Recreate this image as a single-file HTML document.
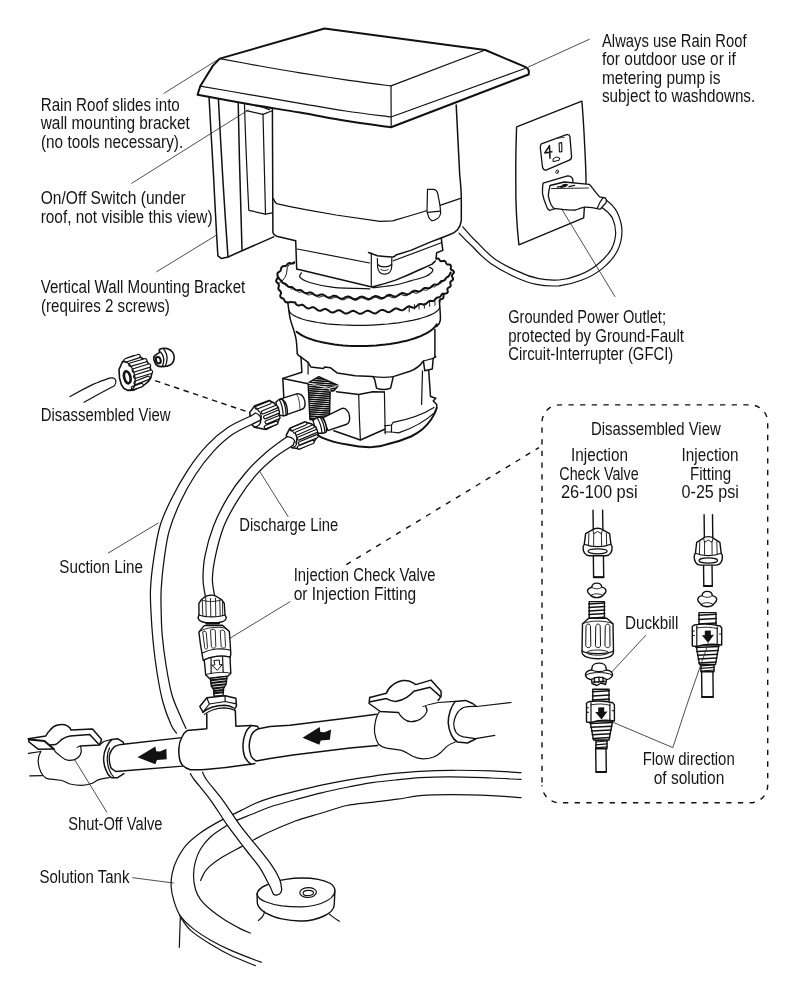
<!DOCTYPE html>
<html lang="en"><head><meta charset="utf-8"><title>Metering pump installation</title>
<style>
html,body{margin:0;padding:0;background:#fff}
svg{display:block;will-change:transform;opacity:.9999}
text{font-family:"Liberation Sans",sans-serif;font-size:17.5px;fill:#151515}
.l{fill:none;stroke:#111;stroke-width:1.5;stroke-linecap:round;stroke-linejoin:round}
.b{fill:none;stroke:#111;stroke-width:2.0;stroke-linecap:round;stroke-linejoin:round}
.t{fill:none;stroke:#222;stroke-width:0.8;stroke-linecap:round;stroke-linejoin:round}
.m{fill:none;stroke:#111;stroke-width:1.2;stroke-linecap:round;stroke-linejoin:round}
.w{fill:#fff;stroke:#111;stroke-width:1.4;stroke-linecap:round;stroke-linejoin:round}
.k{fill:#111;stroke:none}
.d{fill:none;stroke:#111;stroke-width:1.4;stroke-dasharray:5.3 6.36}
</style></head>
<body>
<svg width="789" height="1000" viewBox="0 0 789 1000">
<rect width="789" height="1000" fill="#fff"/>
<!-- 05_tank.svg -->
<g id="tank">
<path class="m" d="M521.0,772.7 C516.1,772.4 503.3,771.3 491.6,770.9 C479.9,770.5 462.9,770.2 451.0,770.3 C439.1,770.4 429.0,770.8 420.0,771.3 C411.0,771.8 405.0,772.4 397.0,773.2 C389.0,774.0 380.6,775.1 372.1,776.3 C363.6,777.5 354.4,778.9 346.0,780.4 C337.6,781.9 329.7,783.4 321.4,785.2 C313.1,787.0 304.4,789.1 296.0,791.2 C287.6,793.3 277.5,795.9 270.7,797.9 C263.9,799.9 259.9,801.4 255.0,803.5 C250.1,805.6 247.1,807.4 241.1,810.4 C235.1,813.4 225.6,817.9 218.8,821.6 C212.1,825.3 206.0,828.8 200.6,832.7 C195.2,836.6 190.3,840.5 186.4,844.9 C182.5,849.3 179.6,854.4 177.2,859.1 C174.8,863.8 173.2,868.6 172.2,873.3 C171.2,878.0 170.9,882.8 171.2,887.5 C171.5,892.2 172.7,897.0 174.2,901.7 C175.7,906.4 177.2,911.5 180.3,915.9 C183.4,920.3 187.4,924.0 192.5,928.1 C197.6,932.2 204.3,936.5 210.7,940.2 C217.1,943.9 224.2,947.4 231.0,950.4 C237.8,953.4 246.2,956.5 251.3,958.5 C256.4,960.5 259.7,961.6 261.4,962.2"/>
<path class="m" d="M521.0,779.4 C516.1,779.2 503.3,778.4 491.6,778.0 C479.9,777.6 462.9,776.9 451.0,776.8 C439.1,776.7 429.0,777.1 420.0,777.6 C411.0,778.1 405.0,778.9 397.0,779.8 C389.0,780.6 380.6,781.4 372.1,782.7 C363.6,784.0 354.4,785.8 346.0,787.5 C337.6,789.2 329.7,790.8 321.4,792.8 C313.1,794.8 304.4,797.2 296.0,799.5 C287.6,801.8 278.1,804.3 270.7,806.8 C263.2,809.3 256.6,812.4 251.3,814.5 C246.0,816.6 243.1,817.5 239.0,819.4 C234.9,821.2 231.6,822.7 226.9,825.6 C222.2,828.5 215.1,832.9 210.7,836.8 C206.3,840.7 203.1,845.0 200.6,849.0 C198.1,853.0 196.7,856.7 195.5,861.1 C194.3,865.5 193.5,870.6 193.5,875.3 C193.5,880.0 194.3,885.4 195.5,889.5 C196.7,893.6 198.1,896.3 200.6,899.7 C203.1,903.1 206.6,906.4 210.7,909.8 C214.8,913.2 219.8,916.8 224.9,920.0 C230.0,923.2 236.9,926.9 241.1,929.1 C245.3,931.3 248.8,932.4 250.3,933.1"/>
<path class="m" d="M521.0,797.7 C516.1,797.4 503.3,796.1 491.6,795.6 C479.9,795.1 462.9,794.6 451.0,794.6 C439.1,794.6 428.9,794.9 420.0,795.7 C411.1,796.5 405.4,798.1 397.4,799.2 C389.4,800.3 380.4,801.2 372.0,802.3 C363.6,803.3 355.4,803.6 346.7,805.5 C338.0,807.4 328.4,811.0 320.0,813.5 C311.6,816.0 303.3,818.1 296.0,820.7 C288.7,823.3 281.8,826.5 276.0,829.0 C270.2,831.5 267.2,832.8 261.4,835.8 C255.6,838.8 247.8,843.2 241.1,846.9 C234.3,850.6 226.6,854.4 220.9,858.1 C215.2,861.8 210.1,865.6 206.7,869.3 C203.3,873.0 201.6,878.5 200.6,880.4"/>
<path class="m" d="M179.5,915.5 C181.3,917.9 185.2,925.3 190.4,930.1 C195.6,934.9 203.9,940.1 210.7,944.3 C217.5,948.5 223.6,952.0 231.0,955.5 C238.4,959.0 251.2,963.9 255.3,965.6"/>
<path class="m" d="M180.3,917.9 L179.3,947.3"/>
<!-- bung -->
<path class="w" d="M257,893.6 C258,890 261,887.5 265.5,885.5 C271.5,882.5 278.5,880.5 285.8,879.4 C291,878.5 296.5,878 302,878 C313,878 324,880 330.5,883.5 C333.5,885.5 335,888 334.9,891 L334.2,905 C334,909 330.5,913 324,916 C317.5,919 310,921 302,921 C295,921.2 288,920.3 281.7,918.9 C275.5,917.5 270,915.5 265.5,912.9 C261.5,910.3 258.5,907.3 257.4,903.7 Z"/>
<path class="m" d="M257,893.6 C257.5,897.5 261,900 265.5,901.7 C270.5,903.7 276,905 281.7,905.8 C288.5,906.6 295.3,906.9 302,906.8 C309,906.6 315.5,905.5 321,903.5 C329,900.5 334.5,896.5 334.9,891"/>
<ellipse class="m" cx="308.1" cy="892.5" rx="8.3" ry="4.9" transform="rotate(-3 308.1 892.5)"/>
<ellipse class="m" cx="308.3" cy="892.9" rx="5.2" ry="2.6" transform="rotate(-3 308.3 892.9)"/>
<path class="m" d="M264.5,911.8 C264,915 262.5,917.5 258.4,920.4"/>
<path class="m" d="M329.5,914.2 C333,917 336,919.5 339.5,921.2"/>
</g>
<!-- 10_pump_top.svg -->
<g id="pump-top">
<!-- bracket -->
<path class="l" d="M209,96 C210.5,125 212.5,160 213.5,175 C215,205 216.5,235 217.9,255.9 L221.5,258.6 L228,257 L242,250.8 L273.7,236.9"/>
<path class="l" d="M218.4,98.7 C221,150 225,215 228,257"/>
<path class="l" d="M238.2,101.8 C239,150 240.8,210 242,249.8"/>
<!-- switch -->
<path class="m" d="M244.5,104.5 C245.5,140 247.3,180 248.8,210.3 L265.5,214.2 L272.4,212.8"/>
<path class="m" d="M246,103.6 C254,104.5 262,106.5 269.5,109.6"/>
<path class="m" d="M246.5,110.6 L263,114.4 C263.6,150 264.6,185 265.5,214.2"/>
<path class="m" d="M263,114.4 L271.5,111"/>
<!-- body -->
<path class="l" d="M272.4,107 C272.6,150 272.7,200 272.9,232.5 C273.5,234.8 275,235.8 276.7,236.3 L295.7,240.8 L296.7,269.1 L369.7,286.6 L372,286.9"/>
<path class="l" d="M456.2,104.9 C457.5,135 459,160 459.7,175 C460.6,183 461.2,190 461.3,197.8 L461.3,220.6 C460.8,224.5 459.5,227.5 457.5,229.8 C455.5,232 453.3,233.3 450.6,234.3 C444,237 437.5,239.5 430.8,241.9 L410.8,250.4 L395.9,255 C395,256.3 394,256.9 392.6,257 C387,256.8 382,256.4 377.4,255.7 L368.5,252.5"/>
<path class="m" d="M273.5,198.5 C274.5,201.5 275.3,203 276.7,203.6 C286,205.8 296,207.8 305.6,209.7 L336,215 L380,221.4 L392.8,220.8 C404,217.5 415,214.3 426.3,210.7"/>
<path class="m" d="M440,205.4 L460.5,198.4"/>
<!-- tab -->
<path class="m" d="M427,211.5 L427.5,189.4 L433.9,189.4 C436.3,190.2 437.3,191.5 437.7,193.3 L440,205.4 L440.7,213 C440,216.5 438.3,218.5 436.2,219.1 C434.8,220.5 433,220.8 431.6,220.6 C430,219.5 429,218.3 428.6,216.8 Z"/>
<path class="m" d="M427.3,212.3 L440.2,211.2"/>
<!-- lower block -->
<path class="m" d="M297.3,249 L369.7,263"/>
<path class="m" d="M371.3,253.1 L371.3,286.5"/>
<path class="m" d="M393.3,260.8 L441.3,242.8"/>
<path class="l" d="M372,286.9 C380,285 388,282.8 395.6,280.1 C403.5,277 411,273.7 418.4,270.2 C423,268.3 427.7,266.3 432.1,264.1 L435.2,261.1"/>
<path class="l" d="M441.3,238.3 L442.8,250.4 L436.7,252.7 L436,258.8"/>
<!-- screw post -->
<path class="m" d="M377.4,258.5 L377.6,267 C378.2,272 381.3,274.2 384.5,274.2 C388,274.2 391.2,272 391.7,267 L391.8,258"/>
<path class="m" d="M377.6,264.5 C381,267.8 388,267.8 391.7,264.5"/>
<path class="m" d="M380.8,269.5 C382.5,271 386.5,271 388.2,269.5" style="stroke-width:.9"/>
<!-- roof -->
<path d="M219.7,58.6 L324.5,28.5 L485.3,50 L524.6,66.7 C528.5,68 529.6,70.5 528.6,74.5 L391,127.3 C383.4,126.2 360.8,123.3 345.6,120.8 C330.4,118.3 315.8,115.2 300.0,112.5 C284.2,109.8 267.9,107.5 250.8,104.6 C233.7,101.6 206.5,96.4 197.6,94.8 L200.2,86.2 L212.8,65.9 Z" fill="#fff"/>
<path class="b" d="M219.7,58.6 L324.5,28.5 L485.3,50 L524.6,66.7 C528.5,68 529.6,70.5 528.6,74.5 L391,127.3 C383.4,126.2 360.8,123.3 345.6,120.8 C330.4,118.3 315.8,115.2 300.0,112.5 C284.2,109.8 267.9,107.5 250.8,104.6 C233.7,101.6 206.5,96.4 197.6,94.8 L200.2,86.2 L212.8,65.9 Z"/>
<path class="m" d="M219.7,58.6 C226.4,59.8 246.6,63.6 260.0,66.0 C273.4,68.4 285.7,70.6 300.0,72.9 C314.3,75.2 330.4,77.6 345.6,79.8 C360.8,82.0 383.4,84.9 391.0,85.9 L485.3,50"/>
<path class="m" d="M391,85.9 L391.2,127.3"/>
<path class="m" d="M200.2,86.2 C208.6,87.6 234.2,92.0 250.8,94.8 C267.4,97.6 284.2,100.6 300.0,103.3 C315.8,106.0 330.4,108.7 345.6,111.0 C360.8,113.3 383.4,116.0 391.0,117.0 L524.8,68.5"/>
</g>

<!-- 20_ring.svg -->
<g id="ring">
<path class="m" d="M301.5,272.8 C301.2,273.6 298.5,275.8 300.0,277.4 C301.5,279.0 305.0,281.0 310.6,282.7 C316.2,284.4 323.5,286.3 333.4,287.3 C343.3,288.3 363.8,288.6 369.9,288.8"/>
<path class="m" d="M372.8,287.7 C376.5,287.2 388.7,286.1 395.0,285.0 C401.3,283.9 405.6,282.2 410.8,280.8 C416.0,279.4 422.3,278.1 426.0,276.3 C429.7,274.5 432.4,271.7 432.9,270.2 C433.4,268.7 429.7,267.6 429.1,267.1"/>
<path class="m" d="M294.7,262.2 C293.6,262.8 289.4,264.0 288.0,266.0 C286.6,268.0 287.1,272.0 286.3,274.3 C285.5,276.6 284.1,278.6 283.0,280.0 C281.9,281.4 280.0,282.2 279.4,282.7" style="stroke-width:1"/>
<path class="b" d="M294.2,262.3 L294.1,262.7 L293.8,263.0 L293.5,263.3 L293.2,263.5 L292.7,263.6 L292.3,263.6 L291.8,263.5 L291.2,263.4 L290.7,263.3 L290.2,263.1 L289.7,263.1 L289.2,263.1 L288.8,263.2 L288.4,263.4 L288.0,263.7 L287.6,264.0 L287.2,264.5 L286.9,264.9 L286.6,265.2 L286.2,265.6 L285.9,265.8 L285.5,266.0 L285.1,266.1 L284.6,266.1 L284.1,266.1 L283.6,266.2 L283.1,266.3 L282.6,266.5 L282.2,266.7 L281.8,267.0 L281.5,267.4 L281.3,267.8 L281.2,268.3 L281.1,268.9 L280.9,269.4 L280.8,269.9 L280.7,270.3 L280.5,270.7 L280.3,271.0 L279.9,271.3 L279.5,271.6 L279.1,271.8 L278.7,272.1 L278.2,272.5 L277.9,272.8 L277.6,273.2 L277.4,273.6 L277.4,274.1 L277.4,274.6 L277.4,275.1 L277.6,275.6 L277.7,276.2 L277.8,276.7 L277.8,277.2 L277.7,277.6 L277.6,278.0 L277.4,278.3 L277.1,278.7 L276.9,279.1 L276.6,279.5 L276.4,280.0 L276.2,280.5 L276.2,281.1 L276.3,281.5 L276.5,281.9 L276.8,282.3 L277.2,282.7 L277.6,283.1 L278.0,283.4 L278.3,283.8 L278.6,284.2 L278.8,284.6 L278.9,285.1 L278.9,285.5 L278.9,286.0 L278.7,286.5 L278.6,287.1 L278.4,287.6 L278.3,288.1 L278.3,288.6 L278.4,289.0 L278.6,289.4 L278.9,289.8 L279.3,290.2 L279.7,290.6 L280.1,290.9 L280.4,291.3 L280.7,291.7 L280.9,292.1 L281.0,292.6 L281.0,293.1 L280.9,293.6 L280.7,294.1 L280.5,294.6 L280.4,295.1 L280.3,295.6 L280.3,296.1 L280.3,296.5 L280.5,297.0 L280.8,297.4 L281.3,297.7 L281.7,298.0 L282.2,298.2 L282.6,298.4 L283.0,298.5 L283.3,298.7 L283.6,299.0 L283.9,299.3 L284.1,299.7 L284.4,300.2 L284.6,300.7 L284.9,301.2 L285.1,301.6 L285.4,301.9 L285.8,302.2 L286.2,302.4 L286.6,302.4 L287.0,302.3 L287.4,302.2"/>
<path class="b" d="M436.5,258.9 L436.9,258.7 L437.3,258.5 L437.7,258.4 L438.1,258.5 L438.5,258.7 L438.9,259.1 L439.3,259.6 L439.6,260.1 L440.0,260.5 L440.3,260.9 L440.7,261.1 L441.2,261.3 L441.7,261.3 L442.2,261.1 L442.8,261.0 L443.4,260.9 L444.0,260.8 L444.5,260.9 L444.9,261.1 L445.3,261.5 L445.6,261.9 L445.8,262.4 L446.1,263.0 L446.4,263.5 L446.7,263.9 L447.0,264.2 L447.4,264.4 L447.9,264.4 L448.4,264.5 L449.0,264.5 L449.6,264.6 L450.1,264.8 L450.5,265.2 L450.8,265.6 L450.9,266.1 L450.9,266.7 L450.9,267.3 L450.8,267.9 L450.7,268.4 L450.8,269.0 L451.0,269.4 L451.3,269.8 L451.8,270.0 L452.3,270.3 L452.8,270.5 L453.3,270.9 L453.7,271.3 L453.9,271.8 L454.0,272.3 L453.8,272.8 L453.5,273.3 L453.1,273.7 L452.6,274.1 L452.3,274.6 L452.0,275.0 L451.9,275.5 L451.9,276.0 L452.1,276.5 L452.3,277.0 L452.6,277.5 L452.9,278.1 L453.1,278.6 L453.1,279.1 L453.0,279.6 L452.7,280.0 L452.2,280.4 L451.7,280.8 L451.3,281.1 L450.8,281.5 L450.5,281.8 L450.3,282.2 L450.3,282.7 L450.3,283.3 L450.4,283.8 L450.6,284.4 L450.7,285.0 L450.7,285.5 L450.6,286.0 L450.4,286.4 L450.0,286.8 L449.5,287.1 L449.0,287.4 L448.5,287.7 L448.0,288.0 L447.7,288.4 L447.5,288.8 L447.4,289.3 L447.5,289.9 L447.6,290.4 L447.7,291.0 L447.8,291.6 L447.7,292.2 L447.5,292.6 L447.1,293.0 L446.7,293.2 L446.1,293.4 L445.5,293.6 L444.9,293.7 L444.4,293.9 L444.0,294.2 L443.7,294.6 L443.6,295.1 L443.5,295.6 L443.5,296.2 L443.5,296.9 L443.4,297.4 L443.3,297.9 L443.1,298.3 L442.7,298.6 L442.2,298.9 L441.7,299.1 L441.1,299.2 L440.5,299.5 L440.1,299.7 L439.7,300.1 L439.5,300.5 L439.5,300.9 L439.6,301.3 L439.8,301.7"/>
<path class="b" d="M278.5,277.4 L278.7,277.9 L278.9,278.3 L279.1,278.7 L279.4,279.1 L279.6,279.3 L279.9,279.5 L280.2,279.7 L280.5,280.0 L280.8,280.3 L281.2,280.8 L281.6,281.4 L281.9,281.9 L282.4,282.4 L282.8,282.9 L283.2,283.1 L283.6,283.3 L284.1,283.4 L284.6,283.4 L285.1,283.6 L285.6,283.9 L286.1,284.4 L286.7,285.0 L287.3,285.7 L287.8,286.3 L288.4,286.7 L289.1,286.9 L289.7,287.0 L290.3,286.9 L290.9,286.9 L291.6,287.0 L292.3,287.2 L293.0,287.7 L293.7,288.4 L294.5,289.1 L295.2,289.7 L296.0,290.1 L296.8,290.3 L297.5,290.3 L298.3,290.1 L299.1,289.9 L300.0,289.9 L300.8,290.1 L301.7,290.6 L302.5,291.2 L303.4,292.0 L304.3,292.7 L305.2,293.1 L306.2,293.3 L307.1,293.2 L308.0,292.9 L308.9,292.6 L309.9,292.4 L310.9,292.5 L311.9,292.9 L312.9,293.6 L313.9,294.4 L314.9,295.1 L316.0,295.6 L317.0,295.7 L318.0,295.5 L319.1,295.1 L320.1,294.7 L321.2,294.4 L322.3,294.4 L323.4,294.8 L324.5,295.4 L325.6,296.2 L326.7,296.9 L327.9,297.4 L329.0,297.5 L330.1,297.3 L331.3,296.8 L332.4,296.2 L333.5,295.8 L334.7,295.7 L335.9,296.0 L337.1,296.6 L338.3,297.4 L339.5,298.1 L340.7,298.6 L341.9,298.7 L343.1,298.4 L344.3,297.8 L345.5,297.2 L346.7,296.7 L347.9,296.5 L349.1,296.7 L350.3,297.2 L351.6,297.9 L352.8,298.6 L354.1,299.1 L355.3,299.2 L356.6,298.8 L357.8,298.2 L359.0,297.5 L360.2,296.9 L361.5,296.6 L362.7,296.7 L364.0,297.1 L365.2,297.8 L366.5,298.4 L367.8,298.9 L369.0,298.9 L370.2,298.6 L371.5,297.9 L372.7,297.2 L373.9,296.5 L375.1,296.1 L376.4,296.1 L377.6,296.4 L378.9,297.0 L380.1,297.6 L381.3,298.0 L382.6,298.0 L383.8,297.7 L385.0,297.0 L386.2,296.2 L387.3,295.4 L388.5,295.0 L389.7,294.8 L390.9,295.1 L392.1,295.6 L393.3,296.1 L394.5,296.5 L395.7,296.5 L396.8,296.1 L398.0,295.4 L399.1,294.6 L400.2,293.8 L401.3,293.3 L402.5,293.0 L403.6,293.2 L404.7,293.6 L405.8,294.0 L406.9,294.3 L408.0,294.3 L409.1,293.9 L410.1,293.2 L411.2,292.4 L412.2,291.6 L413.2,291.0 L414.3,290.7 L415.3,290.8 L416.3,291.0 L417.3,291.3 L418.3,291.6 L419.3,291.5 L420.3,291.1 L421.2,290.5 L422.1,289.7 L423.0,288.9 L423.9,288.3 L424.8,287.9 L425.7,287.9 L426.6,288.0 L427.5,288.2 L428.4,288.3 L429.2,288.2 L430.0,287.9 L430.8,287.3 L431.6,286.5 L432.4,285.7 L433.2,285.1 L433.9,284.7 L434.7,284.6 L435.4,284.6 L436.1,284.7 L436.8,284.7 L437.5,284.6 L438.2,284.2 L438.8,283.6 L439.5,282.9 L440.1,282.2 L440.7,281.6 L441.3,281.2 L441.8,280.9 L442.4,280.9 L443.0,280.8 L443.5,280.7 L444.0,280.5 L444.5,280.2 L445.0,279.7 L445.4,279.0 L445.9,278.4 L446.3,277.8 L446.7,277.4 L447.1,277.1 L447.5,276.9 L447.9,276.8 L448.2,276.6 L448.6,276.3 L448.9,275.9 L449.2,275.5 L449.4,274.9 L449.7,274.4 L449.9,273.9 L450.1,273.5 L450.4,273.1 L450.5,272.9 L450.7,272.6"/>
<path class="m" d="M280.9,280.3 L281.2,280.7 L281.4,281.2 L281.7,281.5 L281.9,281.8 L282.2,282.1 L282.5,282.2 L282.8,282.4 L283.2,282.6 L283.5,283.0 L283.9,283.4 L284.3,283.9 L284.7,284.5 L285.1,285.0 L285.6,285.4 L286.0,285.6 L286.5,285.7 L286.9,285.8 L287.4,285.9 L287.9,286.0 L288.4,286.3 L289.0,286.8 L289.5,287.3 L290.1,288.0 L290.7,288.5 L291.3,288.9 L291.9,289.1 L292.5,289.1 L293.1,289.1 L293.8,289.0 L294.4,289.1 L295.1,289.3 L295.8,289.8 L296.5,290.4 L297.3,291.1 L298.0,291.7 L298.7,292.1 L299.5,292.2 L300.3,292.2 L301.0,292.0 L301.8,291.8 L302.6,291.8 L303.4,292.0 L304.3,292.4 L305.1,293.0 L306.0,293.8 L306.9,294.4 L307.8,294.8 L308.6,294.9 L309.5,294.8 L310.4,294.6 L311.3,294.3 L312.3,294.1 L313.2,294.2 L314.2,294.6 L315.1,295.2 L316.1,295.9 L317.1,296.6 L318.1,297.0 L319.1,297.1 L320.1,297.0 L321.1,296.6 L322.1,296.2 L323.1,295.9 L324.2,295.9 L325.2,296.3 L326.3,296.9 L327.4,297.6 L328.4,298.3 L329.5,298.7 L330.6,298.8 L331.7,298.6 L332.8,298.1 L333.9,297.6 L335.0,297.2 L336.1,297.1 L337.2,297.4 L338.3,298.0 L339.5,298.7 L340.6,299.3 L341.8,299.8 L342.9,299.8 L344.1,299.6 L345.2,299.1 L346.4,298.5 L347.5,298.0 L348.7,297.8 L349.8,298.0 L351.0,298.5 L352.2,299.1 L353.4,299.8 L354.6,300.2 L355.8,300.3 L356.9,300.0 L358.1,299.4 L359.3,298.7 L360.4,298.2 L361.6,297.9 L362.8,298.0 L364.0,298.4 L365.2,299.0 L366.4,299.6 L367.6,300.0 L368.8,300.1 L370.0,299.7 L371.1,299.1 L372.3,298.4 L373.5,297.8 L374.6,297.4 L375.8,297.4 L377.0,297.7 L378.2,298.3 L379.4,298.8 L380.6,299.2 L381.7,299.2 L382.9,298.9 L384.0,298.3 L385.2,297.5 L386.3,296.8 L387.4,296.4 L388.6,296.3 L389.7,296.5 L390.9,296.9 L392.0,297.4 L393.1,297.7 L394.3,297.8 L395.4,297.4 L396.5,296.8 L397.5,296.0 L398.6,295.3 L399.7,294.8 L400.8,294.6 L401.8,294.7 L402.9,295.1 L404.0,295.5 L405.0,295.7 L406.1,295.7 L407.1,295.4 L408.1,294.8 L409.1,294.0 L410.1,293.3 L411.1,292.7 L412.1,292.4 L413.1,292.5 L414.1,292.7 L415.0,293.0 L416.0,293.2 L416.9,293.2 L417.9,292.9 L418.8,292.3 L419.7,291.5 L420.5,290.8 L421.4,290.2 L422.3,289.8 L423.2,289.8 L424.0,289.9 L424.9,290.1 L425.7,290.3 L426.5,290.2 L427.3,289.8 L428.1,289.3 L428.9,288.6 L429.7,287.8 L430.4,287.2 L431.1,286.9 L431.9,286.7 L432.6,286.8 L433.3,286.8 L434.0,286.9 L434.7,286.8 L435.4,286.4 L436.0,285.9 L436.6,285.2 L437.2,284.6 L437.8,284.0 L438.4,283.6 L439.0,283.4 L439.6,283.3 L440.1,283.3 L440.7,283.2 L441.2,283.0 L441.7,282.7 L442.2,282.2 L442.6,281.6 L443.1,281.0 L443.5,280.5 L444.0,280.1 L444.4,279.8 L444.8,279.6 L445.2,279.5 L445.5,279.3 L445.9,279.1 L446.2,278.8 L446.5,278.3 L446.8,277.8 L447.1,277.3 L447.4,276.8 L447.6,276.4 L447.9,276.1 L448.1,275.8 L448.3,275.6" style="stroke-width:1"/>
<path class="b" d="M295.7,303.7 L296.2,304.2 L296.8,304.7 L297.3,305.1 L297.9,305.4 L298.5,305.5 L299.1,305.5 L299.7,305.3 L300.3,305.1 L300.9,304.9 L301.5,304.8 L302.2,304.8 L302.8,305.0 L303.4,305.3 L304.1,305.8 L304.8,306.4 L305.5,307.0 L306.1,307.5 L306.8,308.0 L307.5,308.3 L308.2,308.4 L308.9,308.4 L309.6,308.2 L310.4,307.9 L311.1,307.6 L311.8,307.3 L312.5,307.2 L313.3,307.3 L314.1,307.5 L314.8,307.9 L315.6,308.5 L316.4,309.1 L317.2,309.8 L318.0,310.3 L318.8,310.6 L319.6,310.8 L320.4,310.8 L321.2,310.5 L322.0,310.2 L322.8,309.7 L323.6,309.4 L324.4,309.1 L325.3,309.0 L326.1,309.2 L326.9,309.5 L327.8,310.1 L328.7,310.7 L329.5,311.3 L330.4,311.9 L331.3,312.3 L332.2,312.5 L333.0,312.5 L333.9,312.3 L334.8,311.8 L335.7,311.4 L336.5,310.9 L337.4,310.5 L338.3,310.3 L339.2,310.3 L340.1,310.5 L341.1,311.0 L342.0,311.6 L342.9,312.2 L343.8,312.8 L344.7,313.3 L345.7,313.5 L346.6,313.5 L347.5,313.3 L348.4,312.9 L349.4,312.3 L350.3,311.8 L351.2,311.3 L352.1,310.9 L353.1,310.8 L354.0,310.9 L354.9,311.3 L355.9,311.8 L356.8,312.4 L357.8,313.0 L358.7,313.5 L359.7,313.8 L360.6,313.8 L361.6,313.6 L362.5,313.2 L363.4,312.7 L364.4,312.0 L365.3,311.5 L366.2,311.0 L367.2,310.7 L368.1,310.7 L369.1,310.9 L370.0,311.3 L371.0,311.9 L371.9,312.4 L372.9,312.9 L373.8,313.3 L374.7,313.4 L375.7,313.2 L376.6,312.9 L377.5,312.3 L378.4,311.6 L379.3,311.0 L380.3,310.4 L381.2,310.1 L382.1,309.9 L383.0,310.0 L383.9,310.3 L384.8,310.7 L385.8,311.2 L386.7,311.7 L387.6,312.0 L388.5,312.2 L389.4,312.1 L390.3,311.7 L391.2,311.2 L392.0,310.6 L392.9,309.9 L393.8,309.3 L394.6,308.8 L395.5,308.5 L396.4,308.5 L397.2,308.6 L398.1,309.0 L399.0,309.4 L399.8,309.8 L400.7,310.1 L401.5,310.3 L402.3,310.2 L403.2,309.9 L404.0,309.5 L404.8,308.9 L405.6,308.2 L406.4,307.5 L407.2,307.0 L408.0,306.6 L408.8,306.5 L409.5,306.5 L410.3,306.7 L411.1,307.0 L411.9,307.3 L412.6,307.6 L413.4,307.7 L414.1,307.7 L414.9,307.5 L415.6,307.1 L416.3,306.5 L417.0,305.9 L417.7,305.2 L418.4,304.7 L419.1,304.2 L419.8,304.0 L420.5,303.9 L421.2,303.9 L421.8,304.1 L422.5,304.3 L423.1,304.5 L423.8,304.7 L424.4,304.6 L425.1,304.4 L425.7,304.1 L426.3,303.6 L426.9,303.0 L427.5,302.4 L428.0,301.9 L428.6,301.4 L429.2,301.1 L429.7,300.9 L430.3,300.8 L430.8,300.9 L431.4,301.0 L431.9,301.1 L432.4,301.2 L432.9,301.1 L433.4,300.9 L433.9,300.6 L434.4,300.2 L434.8,299.7 L435.3,299.2 L435.7,298.7 L436.2,298.2 L436.6,297.8 L437.0,297.6 L437.4,297.4 L437.8,297.4 L438.2,297.4 L438.6,297.4 L439.0,297.3 L439.4,297.3 L439.7,297.1 L440.1,296.8 L440.4,296.5 L440.7,296.0 L441.0,295.6 L441.3,295.1 L441.6,294.7 L441.9,294.4 L442.1,294.1 L442.4,293.9 L442.7,293.7 L442.9,293.6 L443.1,293.5"/>
<path class="b" d="M287.8,302.5 C288.3,302.4 289.7,302.0 291.0,302.0 C292.3,302.0 294.7,302.4 295.4,302.5"/>
<path class="l" d="M287.8,302.5 C288.2,305.1 289.1,313.7 290.1,318.4 C291.1,323.1 292.9,327.0 293.9,330.6 C294.9,334.2 295.6,336.1 296.2,340.0 C296.8,343.9 297.1,351.5 297.3,353.8"/>
<path class="l" d="M439.5,302.2 C439.6,305.2 440.8,316.3 440.3,320.4 C439.8,324.4 437.1,325.5 436.5,326.5"/>
<path class="l" d="M434.9,329.5 L434.9,356.9"/>
<path class="m" d="M289.0,310.6 L289.7,311.9 L290.7,313.2 L292.2,314.4 L294.1,315.6 L296.4,316.8 L299.1,317.9 L302.1,319.0 L305.5,320.0 L309.3,320.9 L313.3,321.7 L317.7,322.5 L322.3,323.2 L327.1,323.8 L332.2,324.3 L337.4,324.7 L342.8,325.0 L348.4,325.2 L354.0,325.3 L359.6,325.4 L365.3,325.3 L371.0,325.1 L376.7,324.8 L382.2,324.4 L387.7,324.0 L393.1,323.4 L398.2,322.8 L403.2,322.0 L408.0,321.2 L412.5,320.3 L416.8,319.3 L420.7,318.3 L424.3,317.2 L427.6,316.1 L430.5,314.9 L433.1,313.7 L435.2,312.4 L437.0,311.1 L438.3,309.8 L439.2,308.5 L439.7,307.1"/>
<path class="b" d="M296.6,331.7 L298.5,333.1 L300.5,334.5 L302.9,335.8 L305.5,337.1 L308.4,338.3 L311.5,339.4 L314.8,340.5 L318.4,341.4 L322.1,342.3 L326.1,343.1 L330.2,343.8 L334.4,344.5 L338.8,345.0 L343.2,345.4 L347.8,345.7 L352.5,345.9 L357.2,346.0 L361.9,346.1 L366.6,346.0 L371.4,345.8 L376.1,345.5 L380.7,345.1 L385.3,344.6 L389.8,344.0 L394.2,343.3 L398.5,342.5 L402.7,341.6 L406.7,340.7 L410.5,339.6 L414.1,338.5 L417.5,337.3 L420.7,336.1 L423.6,334.7 L426.3,333.4 L428.8,331.9 L430.9,330.5 L432.8,329.0 L434.4,327.4 L435.7,325.9 L436.8,324.3"/>
<path class="t" d="M409.1,305.4 L409.2,311.9" style="stroke-width:1"/>
<path class="t" d="M414.4,304.6 L414.5,309.1" style="stroke-width:1"/>
<path class="t" d="M419.0,304.0 L419.1,309.0" style="stroke-width:1"/>
<path class="t" d="M424.3,303.2 L424.4,308.2" style="stroke-width:1"/>
<path class="t" d="M429.6,302.3 L429.7,306.3" style="stroke-width:1"/>
<path class="t" d="M434.9,301.0 L435.0,305.3" style="stroke-width:1"/>
</g>
<!-- 30_head.svg -->
<g id="head">
<defs>
<pattern id="hatch" width="4" height="2.1" patternUnits="userSpaceOnUse" patternTransform="rotate(4)">
<rect width="4" height="2.1" fill="#fff"/><rect width="4" height="1.55" fill="#111"/>
</pattern>
</defs>
<!-- band 2 bottom with notches -->
<path class="l" d="M297.3,353.8 L298.4,355.3 L301,357.1 L308.1,362.4 L310.8,366.9 L323.2,368.6 L325,366.9 L330.3,367.7 L337.4,373.1 L355.2,375.7 L372.9,376.6 L374.7,379.3 L376.5,388.1 C381,390 386,390 390.6,388.1 L393.3,376.6 L410,371.3 C416,369 420,366 423.4,361 L424.8,370.8 L432.3,369 L433.2,358.4 L435.8,356.6"/>
<path class="m" d="M372.9,376.6 C380,377.5 388,377.5 393.3,376.6"/>
<path class="m" d="M423.4,361 L433.2,358.4"/>
<path class="l" d="M301,357.1 L301.9,372.2 L282.8,378.4 L284,401"/>
<path class="m" d="M308.1,362.4 L308.1,374"/>
<path class="l" d="M282.8,378.4 L308.1,383.7"/>
<path class="l" d="M336.5,391.7 L358.7,394.6 L372.9,391.7 L384.4,392.1"/>
<path class="m" d="M358.7,394.6 C359,410 359.6,426 360.4,440"/>
<path class="m" d="M384.4,392.1 L385.2,433.8"/>
<path class="l" d="M333.9,430.7 L360.4,440 L385.3,429"/>
<path class="m" d="M422.5,370.8 L421.6,404.5"/>
<path class="l" d="M428.7,370.8 L430.5,396.5 L435.8,398.3 L433.2,401 L436.7,404.5 L436.7,408"/>
<path class="m" d="M384.4,425.8 L391.5,425 L393.2,422.3 C408,419.5 423,414.5 434,407.5"/>
<path class="m" d="M391.5,425 L391.5,432 L398.6,432.9 C412,428.5 425,421.5 435.8,411.6"/>
<path class="m" d="M384.6,432 L391.5,432"/>
<path class="b" d="M316.4,433.4 C318,435.5 320,436.8 322,437.6 C330,441 338,443.2 347.1,444.6 C356,446.5 364,447.3 372,447.1 C377,446.8 382,446 386.2,444.6 C395,442.6 403,440 411,436.5 C415,434.5 419,432 422.4,429.2 C429,423.5 434,416.5 436.7,408"/>
<!-- hatched lever -->
<path d="M308.1,382.8 L318.8,376.6 L338.3,385.5 L334,390.8 L330.2,391.2 L329.5,416 L321,421 L309.9,419.5 Z" fill="url(#hatch)" stroke="#111" stroke-width="1.4" stroke-linejoin="round"/>
<path class="m" d="M308.1,382.8 L328.8,388.5 L330.2,391.2 M328.8,388.5 L338.3,385.5" style="stroke:#fff;stroke-width:.8"/>
<!-- stub 1 -->
<path class="w" d="M279.1,399.4 L295.8,394.1 C300,392.6 304,396 304.8,401 C305.6,406 304.5,408.6 301.9,409.3 L286.7,414.7 Z"/>
<path class="m" d="M296.5,394 C298.5,397 299.8,402 300,409.8" style="stroke-width:.8"/>
<!-- stub 2 -->
<path class="w" d="M323.2,417.7 L341.5,408.6 C345,407.3 348.6,410.6 349.4,415.6 C350.2,420.5 349,423.6 346,424.5 L327.8,430.6 Z"/>
<!-- ferrule 1 -->
<path class="w" d="M276,402 C278,399.6 281,399 283,399.8 C286,402 288,408 287.3,414.6 C285,416 282,416 280,415.2 C278,412 276.5,407 276,402 Z"/>
<path class="m" d="M279.5,400 C281.8,404 283,410 283.2,415.8 M282.6,399.6 C284.8,403.5 286,409 286,415.3"/>
<!-- ferrule 2 -->
<path class="w" d="M313,420.5 C315.5,417.6 319,416.8 322,417.6 C325,420 327,426 326.4,431.8 C324,433.3 320.5,433.5 318,432.8 C315.6,429.5 313.8,425 313,420.5 Z"/>
<path class="m" d="M317.2,418 C319.8,422 321.6,428 322,433.3 M320.3,417.4 C322.8,421.3 324.6,427 325,432.6"/>
<!-- tube 1 end cover -->
<path d="M253.3,413.9 L235,422.3 L235,433.7 L257.8,421.5 Z" fill="#fff"/>
<!-- nut 1 -->
<path class="w" d="M249.8,412.4 L254.4,406.1 L269.2,400.4 L274.4,403.3 L278.4,407.8 L279.5,418.1 L277.2,423.8 L265.8,429.5 L254.4,427.2 L250.4,422.7 Z" style="stroke-width:1.6"/>
<path d="M256.7,407.6 L269.5,402.6 M263.0,412.2 L275.9,406.9 M265.2,417.2 L277.9,411.9 M266.7,422.2 L278.4,417.4 M265.8,427.0 L276.3,422.9" fill="none" stroke="#111" stroke-width="4.3" stroke-linecap="round"/>
<path d="M256.7,407.6 L269.5,402.6 M263.0,412.2 L275.9,406.9 M265.2,417.2 L277.9,411.9 M266.7,422.2 L278.4,417.4 M265.8,427.0 L276.3,422.9" fill="none" stroke="#fff" stroke-width="2.0" stroke-linecap="round"/>
<path class="m" d="M254.4,406.1 C258,409 260.8,414 261,419.5 C261,423.5 258.5,426.5 254.4,427.2"/>
<path d="M252,414.5 L259.5,411.5 C261.5,414 261.8,418.5 260,421.3 L254.5,423.5 Z" fill="#fff"/>
<path class="m" d="M259.5,411.5 C261.5,414 261.8,418.5 260,421.3"/>
<!-- nut 2 -->
<path class="w" d="M286.3,435.2 L289.8,428.4 L304.6,422.1 L311.4,423.8 L316,427.2 L318.3,435.2 L313.7,442 L300,448.9 L292,447.7 L287.5,442 Z" style="stroke-width:1.6"/>
<path d="M291.5,429.3 L305.2,423.6 M296.6,433.5 L312.6,426.6 M298.9,438.4 L316.0,431.2 M300.0,443.2 L316.6,436.3 M298.9,447.5 L312.6,442.0" fill="none" stroke="#111" stroke-width="4.3" stroke-linecap="round"/>
<path d="M291.5,429.3 L305.2,423.6 M296.6,433.5 L312.6,426.6 M298.9,438.4 L316.0,431.2 M300.0,443.2 L316.6,436.3 M298.9,447.5 L312.6,442.0" fill="none" stroke="#fff" stroke-width="2.0" stroke-linecap="round"/>
<path class="m" d="M289.8,428.4 C293.5,431.5 296.5,436.5 296.8,441.5 C296.8,445 295,447.3 292,447.7"/>
<path d="M288.5,437 L294.8,433 C297,435.5 297.5,440 295.8,443 L291,446 Z" fill="#fff"/>
<path class="m" d="M294.8,433 C297,435.5 297.5,440 295.8,443"/>
</g>

<!-- 35_tube_ends.svg -->
<g id="tube-ends">
<path d="M251.3,415.7 L255.5,413.0 C258.5,414.0 262.1,416.9 260.1,420.4 L254.4,423.1 L240,431 L238,421.5 Z" fill="#fff"/>
<path class="m" d="M251.3,415.7 L255.5,413.0 C258.5,414.0 262.1,416.9 260.1,420.4 L254.4,423.1" style="stroke-width:1.25"/>
<path d="M287,436.7 L288.6,436.9 C292.1,437.4 296.3,440.2 293.8,443.2 L293.3,445.1 L281,453 L275,446 Z" fill="#fff"/>
<path class="m" d="M287,436.7 L288.6,436.9 C292.1,437.4 296.3,440.2 293.8,443.2 L293.3,445.1" style="stroke-width:1.25"/>
</g>
<!-- 40_tubes.svg -->
<g id="tubes">
<path class="m" d="M251.3,415.7 C247.5,417.6 235.5,422.4 228.2,427.3 C220.8,432.2 213.8,438.1 207.2,445.1 C200.5,452.1 194.2,460.4 188.3,469.3 C182.4,478.2 176.2,489.2 171.5,498.7 C166.8,508.1 163.0,515.9 160.0,526.0 C157.0,536.1 155.2,549.1 153.6,559.6 C152.0,570.1 150.9,580.2 150.5,589.0 C150.1,597.8 150.6,603.6 151.0,612.5 C151.4,621.4 152.2,632.5 153.2,642.5 C154.2,652.5 155.4,662.5 157.0,672.5 C158.6,682.5 160.6,693.8 163.0,702.5 C165.4,711.2 168.9,719.9 171.2,725.0 C173.4,730.1 175.6,731.8 176.5,733.2" style="stroke-width:1.25"/>
<path class="m" d="M254.4,423.1 C250.7,425.0 239.2,429.9 232.4,434.6 C225.6,439.3 219.6,444.8 213.5,451.4 C207.4,458.0 201.0,466.3 195.6,474.5 C190.2,482.7 185.3,491.5 180.9,500.8 C176.5,510.1 172.2,520.4 169.4,530.2 C166.6,540.0 165.5,549.8 164.1,559.6 C162.7,569.4 161.7,580.2 161.2,589.0 C160.7,597.8 161.0,604.8 161.2,612.5 C161.4,620.2 161.4,626.2 162.2,635.0 C163.0,643.8 164.4,655.0 166.0,665.0 C167.6,675.0 169.5,686.2 172.0,695.0 C174.5,703.8 178.7,711.9 181.0,717.5 C183.3,723.1 185.2,726.7 186.0,728.5" style="stroke-width:1.25"/>
<path class="m" d="M287.0,436.7 C283.5,439.3 273.0,446.4 266.0,452.5 C259.0,458.6 251.3,466.1 245.0,473.5 C238.7,480.9 233.4,487.9 228.2,496.6 C222.9,505.4 217.3,516.2 213.5,526.0 C209.7,535.8 206.8,546.6 205.1,555.4 C203.3,564.1 203.0,571.7 203.0,578.5 C203.0,585.3 204.9,593.1 205.3,596.0" style="stroke-width:1.25"/>
<path class="m" d="M293.3,445.1 C290.1,447.2 280.7,452.6 274.4,457.7 C268.1,462.8 261.4,468.8 255.5,475.6 C249.6,482.4 243.9,490.3 238.7,498.7 C233.4,507.1 227.8,516.5 224.0,526.0 C220.2,535.5 217.5,546.6 215.6,555.4 C213.7,564.1 212.6,571.8 212.4,578.5 C212.2,585.2 214.2,592.8 214.6,595.6" style="stroke-width:1.25"/>
<!-- suction tube lower -->
<path class="w" d="M190.4,773.7 C191.1,774.8 191.1,775.6 194.5,780.0 C197.9,784.4 205.3,792.9 210.7,800.3 C216.1,807.7 221.2,816.5 226.9,824.6 C232.7,832.7 239.8,841.9 245.2,849.0 C250.6,856.1 255.3,861.1 259.4,867.2 C263.4,873.3 267.3,881.3 269.5,885.5 C271.7,889.7 272.1,891.4 272.6,892.6 C273.8,896.3 281,896 281.7,889.5  C281.4,887.8 281.4,883.4 279.7,879.4 C278.0,875.4 275.3,870.6 271.6,865.2 C267.9,859.8 262.5,853.3 257.4,846.9 C252.3,840.5 246.8,834.5 241.1,826.7 C235.3,818.9 228.6,808.1 222.9,800.3 C217.2,792.5 210.1,784.7 206.7,780.0 C203.3,775.3 203.3,773.5 202.6,772.2" style="stroke-width:1.25"/>
</g>
<!-- 50_pipe.svg -->
<g id="pipe">
<!-- left stub -->
<path class="m" d="M28.4,753.3 L40.9,751.5 M29.8,775.9 L42.3,775.6"/>
<!-- left valve body -->
<path d="M40.9,751.2 C39,754.5 38.2,758 38.1,761 C38.3,765.5 39.3,769 40.9,772.2 C42.3,775 44.3,777.2 46.5,778.4 C48.8,779.2 51,779.3 53.5,779.4 L61.8,780.5 C64.8,781.5 67.3,782.9 70.2,784 C73.8,785 77.5,785.4 81.3,785.4 C85.2,785.2 89,784.5 92.5,783.3 L98.1,779.8 C101.5,778.8 105.5,778.2 109.2,777.7 L118,778 L123,745 L112,739.4 L103.6,741.5 L99.5,745 L53,743 Z" fill="#fff"/>
<path class="m" d="M40.9,751.2 C39,754.5 38.2,758 38.1,761 C38.3,765.5 39.3,769 40.9,772.2 C42.3,775 44.3,777.2 46.5,778.4 C48.8,779.2 51,779.3 53.5,779.4 L61.8,780.5 C64.8,781.5 67.3,782.9 70.2,784 C73.8,785 77.5,785.4 81.3,785.4 C85.2,785.2 89,784.5 92.5,783.3 L98.1,779.8 C101.5,778.8 105.5,778.2 109.2,777.7"/>
<path class="m" d="M99.5,745 L103.6,741.5 L112,739.4"/>
<!-- hub circle -->
<path class="m" d="M53.5,749 C55,752 57.5,754.3 60.4,756.1 C63,758.5 65.5,760 68.8,760.3 C72,760.5 75,759.8 77.2,758.2 C79.5,756.5 81,754 81.3,751.2 C81.5,749 81,747.3 80,746 L77.2,747.3"/>
<!-- handle -->
<path d="M28.4,738.7 L45.8,735.9 C47,733.5 48.3,731.8 50,730.3 C52,727.5 54.5,725.8 57.6,725 C60,724.5 62.5,724.4 64.6,724.8 C67,725.4 69,726.6 70.2,728.2 L70.9,730 L92.5,728.9 L101.6,739.4 L99.5,745 L80,746 L53.5,749.2 L38.1,749.2 L29.1,742 Z" fill="#fff"/>
<path class="l" d="M28.4,738.7 L45.8,735.9 C47,733.5 48.3,731.8 50,730.3 C52,727.5 54.5,725.8 57.6,725 C60,724.5 62.5,724.4 64.6,724.8 C67,725.4 69,726.6 70.2,728.2 L70.9,730 L92.5,728.9 L101.6,739.4 L99.5,745 L80,746"/>
<path class="l" d="M28.4,738.7 L29.1,742 L38.1,749.2 L53.5,749"/>
<path class="b" d="M29.2,739.5 L44.4,741 L53.8,749"/>
<path class="l" d="M50,745 L55.5,744.6 C57.5,743.5 59.5,741.5 61.8,739.4 C64.5,737.5 67,736.3 70.2,735.9 L89.7,734.5 L99.5,745"/>
<!-- collar left -->
<path d="M112,739.4 L117.6,738.7 L123.2,742.2 L124,745 L123.9,773.6 L117.6,777.7 L111.3,777.7 C108.5,775.5 106.8,772.7 105.7,769.4 C104.3,766 103.6,762 103.6,758.2 C103.7,754.5 104.7,750.5 106.4,747.1 C107.8,744 109.5,741.5 112,739.4 Z" fill="#fff"/>
<path class="l" d="M123.9,773.6 L117.6,777.7 L111.3,777.7 C108.5,775.5 106.8,772.7 105.7,769.4 C104.3,766 103.6,762 103.6,758.2 C103.7,754.5 104.7,750.5 106.4,747.1 C107.8,744 109.5,741.5 112,739.4 L117.6,738.7 L123.2,742.2 L124,745"/>
<path class="m" d="M109.5,748 C107.8,751.5 107.2,755 107.2,758.2 C107.3,763.5 108.5,768 109.5,770.5 C110.5,773 112,775.3 113.5,776.6"/>
<!-- left pipe segment -->
<path class="w" d="M123.2,744.2 L182,737.6 L182.7,766.1 L125,770.7 L116.2,771.5 C113,770 110.8,768.6 110.6,766.6 C109.5,763.5 109.2,760 109.2,756.8 C109.8,752.5 111.8,749 114.8,746.4 C117.5,745 120.5,744.3 123.2,744.2 Z"/>
<!-- arrow left -->
<path class="k" d="M137.5,757.2 L155.4,746.4 L156.2,751.3 L160,751.5 L166.4,748.7 L166.7,759.3 L156.9,760.1 L155.4,764.3 Z"/>
<!-- tee -->
<path d="M206.8,714 L206.8,728.7 L187.1,730.6 C184.8,732 183.2,734.3 182,737 C180,740.5 179,744.5 178.9,748.4 C178.7,752 178.8,755.5 179.5,758.5 C180,761.3 181,763.7 182.7,765.5 C184.8,767.5 187.3,768.9 190.3,769.7 C196,770 202,769.8 208,769.3 C221,768.3 234,766.7 246,764.8 L256,763 L258,726 L251.1,725.6 L235.9,726.2 L235.3,708 L225,703 L207,706 Z" fill="#fff"/>
<path class="l" d="M206.8,714 L206.8,728.7 L187.1,730.6 C184.8,732 183.2,734.3 182,737 C180,740.5 179,744.5 178.9,748.4 C178.7,752 178.8,755.5 179.5,758.5 C180,761.3 181,763.7 182.7,765.5 C184.8,767.5 187.3,768.9 190.3,769.7 C196,770 202,769.8 208,769.3 C221,768.3 234,766.7 246,764.8 L251.1,764.2"/>
<path class="l" d="M235.3,710.5 L235.9,726.2 L251.1,725.6"/>
<!-- hex nut on tee -->
<path d="M206.8,697.7 L225.1,695.8 L235.9,698.3 L236.5,705.9 L234.6,709.1 C231,707.3 228,706.6 224.5,706.5 C220,706.6 216,707.4 211.8,708.5 C208.5,710 205.8,711.8 203.5,713.5 L199.8,706.5 Z" fill="#fff"/>
<path class="l" d="M203,712.2 L199.8,706.5 L206.8,697.7 L225.1,695.8 L235.9,698.3 L236.5,705.9 L234.6,709.1"/>
<path class="m" d="M206.8,697.7 L209.3,704 L203,712.2 M209.3,704 L225.1,701.5 L236.2,703.8 M225.1,695.8 L225.1,701.5"/>
<path class="l" d="M203,712.2 C205.5,710 208.5,708.3 211.8,707.2 C216,706 220,705.4 224.5,705.3 C228,705.4 231,706.2 233.4,707.8"/>
<path class="m" d="M204.3,714.4 C207,712.3 210,710.8 213.1,709.7 C217,708.5 221,707.9 224.5,707.8 C228.5,708 232,709 234.6,710.3"/>
<!-- tee right collar -->
<path d="M251.1,725.6 L257.5,726.2 L258.7,728.7 L256.2,761 L254.9,763.6 L251.1,764.2 C248.5,762.5 246.3,760 244.8,757.2 C243.5,753.5 242.9,749.5 242.9,745.8 C243,741.5 243.8,737 245.4,733.2 C246.8,730 248.8,727.5 251.1,725.6 Z" fill="#fff"/>
<path class="l" d="M258.7,728.7 L257.5,726.2 L251.1,725.6 C248.8,727.5 246.8,730 245.4,733.2 C243.8,737 243,741.5 242.9,745.8 C242.9,749.5 243.5,753.5 244.8,757.2 C246.3,760 248.5,762.5 251.1,764.2 L254.9,763.6"/>
<!-- right pipe segment -->
<path d="M258.7,728.7 L270,726.6 L290,725.3 L350,717.8 L376.4,714.2 L376.4,745.6 L350,747.9 L293,755 L270,758.5 L256.2,761 C253.5,759.5 252,758 251.1,756 C249.8,752.8 249.2,749.3 249.2,745.8 C249.3,742.3 250,738.8 251.1,735.7 C252.5,732.5 254.5,730 258.7,728.7 Z" fill="#fff"/>
<path class="l" d="M376.4,714.2 L350,717.8 L290,725.3 L270,726.6 L258.7,728.7 C254.5,730 252.5,732.5 251.1,735.7 C250,738.8 249.3,742.3 249.2,745.8 C249.2,749.3 249.8,752.8 251.1,756 C252,758 253.5,759.5 256.2,761 L270,758.5 L293,755 L350,747.9 L377.5,745.6"/>
<!-- arrow right -->
<path class="k" d="M302.5,737.7 L319.7,727 L320.4,732.1 L324.5,732.3 L331.1,729.4 L329.9,739.7 L320.8,740.5 L319.3,744.8 Z"/>
<!-- right valve body -->
<path d="M380.3,710.6 C377.5,714 375.8,718 375.2,722.7 C374.5,726 374.3,729.5 374.6,732.9 C375.3,737 376.5,741 378.3,744 C380.5,746.3 383.3,747.5 386.4,748.1 L400.6,750.1 C405,751.5 409,754 412.7,756.2 C416,757.8 419.5,758.7 422.9,758.8 C426.5,758.8 430,758.3 433,757.2 C436,756 438.8,754.3 441.1,752.2 L447.2,746.1 C449.5,744.3 452.3,743 455.3,742 L470,742 L470,702 L455.3,701.4 L438.1,702.5 L424.9,705.5 L395,705 Z" fill="#fff"/>
<path class="m" d="M380.3,710.6 C377.5,714 375.8,718 375.2,722.7 C374.5,726 374.3,729.5 374.6,732.9 C375.3,737 376.5,741 378.3,744 C380.5,746.3 383.3,747.5 386.4,748.1 L400.6,750.1 C405,751.5 409,754 412.7,756.2 C416,757.8 419.5,758.7 422.9,758.8 C426.5,758.8 430,758.3 433,757.2 C436,756 438.8,754.3 441.1,752.2 L447.2,746.1 C449.5,744.3 452.3,743 455.3,742"/>
<path class="m" d="M423,706.5 L424.9,705.5 L438.1,702.5 L455.3,701.4"/>
<!-- hub lobe -->
<path class="m" d="M398.5,712.6 C399.5,715 401.3,717 403.6,718.7 C405.8,720.5 408.3,721.6 410.7,721.7 C414.5,721.8 418,720.8 420.9,718.7 C423.8,716.8 425.8,714.5 426.9,711.6 C427.3,709 426.5,707 424.9,705.5"/>
<!-- handle right -->
<path d="M369.7,697.4 L386.4,693.3 C387.5,690 389.7,687.3 392.5,685.2 C395.8,682.5 399.5,681 403.6,680.5 C406.8,680.3 410,681 412.7,682.6 L415.8,684.6 L431,680.1 L441.1,691.3 L441.1,696.4 L438.1,700.5 L424.9,705.5 L398.5,712.6 L380.3,711.5 L369.1,703.5 Z" fill="#fff"/>
<path class="l" d="M369.7,697.4 L386.4,693.3 C387.5,690 389.7,687.3 392.5,685.2 C395.8,682.5 399.5,681 403.6,680.5 C406.8,680.3 410,681 412.7,682.6 L415.8,684.6 L431,680.1 L441.1,691.3 L441.1,696.4 L438.1,700.5"/>
<path class="l" d="M369.7,697.4 L369.1,703.5 L380.3,711.5 L398.5,712.6"/>
<path class="l" d="M370.5,701.8 L386.4,698.6 C389.5,700.3 392.5,701.3 395.5,701.4 C399.5,701 403.5,699.5 406.7,697.4 C409.5,695.5 412,693.5 413.8,691.3 L430,687.2 L440.5,696.6"/>
<!-- left join lines of pipe into valve are pipe edges -->
<!-- collar right -->
<path d="M455.3,701.4 L465.5,700.4 L472.6,703.5 L476.6,706.5 L475.6,739 L467.5,743 L457.4,742 C454.5,740.3 452.5,737.8 451.3,734.9 C449.5,731 448.5,727 448.2,722.7 C448.2,718.5 449,714.5 450.3,710.6 C451.5,707 453.2,704 455.3,701.4 Z" fill="#fff"/>
<path class="l" d="M476.6,706.5 L472.6,703.5 L465.5,700.4 L455.3,701.4 C453.2,704 451.5,707 450.3,710.6 C449,714.5 448.2,718.5 448.2,722.7 C448.5,727 449.5,731 451.3,734.9 C452.5,737.8 454.5,740.3 457.4,742 L467.5,743 L475.6,739"/>
<!-- right pipe -->
<path d="M476.6,706.5 L511.1,702.5 L511.1,733 L494.9,735.3 L475.6,738.6 L463.4,736.9 C460,736 457.8,734.8 456.3,732.9 C454.5,730 453.7,727 453.7,723.8 C454,720.5 454.8,717.5 456.3,714.6 C458,711.5 460.3,709 463.4,707.5 C467.5,706.3 472,706.2 476.6,706.5 Z" fill="#fff"/>
<path class="m" d="M511.1,702.5 L476.6,706.5 C472,706.2 467.5,706.3 463.4,707.5 C460.3,709 458,711.5 456.3,714.6 C454.8,717.5 454,720.5 453.7,723.8 C453.7,727 454.5,730 456.3,732.9 C457.8,734.8 460,736 463.4,736.9 L475.6,738.6 L494.9,735.3"/>
</g>

<!-- 60_valve.svg -->
<g id="inj-valve">
<!-- top nut -->
<path class="w" d="M205.7,596.4 C208,595 213,594.8 215.3,595.8 L221.5,599.5 L224.3,603.5 L225,615 L226.3,617.6 C226,620.5 222,622.2 218.5,622.4 L206,622.6 C202,622.3 198.5,620.5 198,617.7 L199,615 L198.9,603.3 L201.5,599.5 Z"/>
<path class="m" d="M199,615 C205,617.5 219,617.3 225,615"/>
<path class="m" d="M202.3,600.8 L202.8,615.6 M205.7,597 L206.3,616.3 M210.5,598.5 L210.8,616.6 M215.5,598.3 L215.8,616.5 M219.8,599.8 L220.2,616 M222.5,602.5 L222.7,615.5" style="stroke-width:.9"/>
<path class="m" d="M201.5,599.8 C206,602.3 217,602 221.5,599.6" style="stroke-width:.9"/>
<!-- neck -->
<path class="b" d="M206.5,623.4 L218.7,623.2" style="stroke-width:2.6"/>
<!-- main body -->
<path class="w" d="M204.2,625.6 L222.5,625.3 L229.3,631.5 C230,639 230.4,647 230.8,654.5 L230,657.5 C222,655 211,656.5 203.2,660.5 L202.5,656.5 C201,648.5 199.8,640.5 198.9,632.1 Z"/>
<path class="m" d="M202.5,653 C210,648.8 222,647.5 230.6,650.3"/>
<path class="m" d="M198.9,632.1 C203,628.5 212,626.8 222,627.5 C225,628 227.5,629.5 229.3,631.5" style="stroke-width:.9"/>
<path class="m" d="M203,631.5 C204.5,630.5 206,631 206.3,633 L207.5,647.5 C207.3,649.5 205.3,650 204.8,648 Z M210.8,630 C212.5,628.8 215,629 215.3,631 L215.8,646.5 C215.3,648.5 212,648.8 211.5,647 Z M220.5,630.5 C222,629.5 224.5,630 224.8,632 L225.5,646.5 C225.3,648.5 222,648.6 221.3,646.8 Z" style="stroke-width:.9"/>
<!-- lower hex body -->
<path class="w" d="M204.2,659.8 L205.7,674.7 L209.5,678.5 L227.8,676.3 L230.8,673.2 L230,657 C222,655 211,656.5 204.2,659.8 Z"/>
<path class="m" d="M211,658 L211.2,673.5 M222.5,656.5 L223.2,672"/>
<path class="m" d="M205.7,674.7 C212,672.5 224,671.5 230.8,673.2" style="stroke-width:.9"/>
<!-- down arrow (outline) -->
<path class="m" d="M214.3,660.5 L219.3,660 L219.5,664.8 L222.3,664.6 L217.3,670.3 L211.8,665.2 L214.5,665 Z" style="stroke-width:1"/>
<!-- threads -->
<path class="w" d="M210.3,678.3 L227,676.4 L226,684.5 L223.5,688.5 L223,695.5 L214,696.3 L213.8,689.5 L211.3,686 Z"/>
<path class="b" d="M211,680.3 L226.6,678.6 M211.3,683 L226.3,681.3 M211.8,685.8 L225.6,684.2 M213.2,688.5 L224,687.3 M213.8,691 L223.4,690 M214,693.3 L223.2,692.4" style="stroke-width:1.9"/>
</g>

<!-- 70_outlet.svg -->
<g id="outlet">
<!-- cord -->
<path class="m" d="M606,200.1 C611,203.5 615,208 617.4,212.8 C620,218.5 621.8,224.5 622,230.6 C622,238 620.5,245 617.4,250.8 C614,257.5 608.5,263.5 602.2,268.6 C596,273.5 589.5,277.3 582,280 C575,282.8 567.5,284.8 559.1,285.8 C551.5,286.3 543.5,285.8 536.3,284.3 C529.5,283 522.5,280.5 516,277.5 C507,273.5 498.5,268.8 490.7,263.5 C484,258.5 478.3,253 473,247 C468,242.5 463.5,238 459,233.1"/>
<path class="m" d="M602.2,207.7 C606.5,210.5 610,214 612.4,217.9 C614.5,222.5 615.7,227.5 615.7,233.1 C615.5,239 614,244.5 611.1,249.6 C607.5,255.5 602.5,260.5 597.2,264.8 C592,269 586,272.5 579.4,274.9 C573,277.5 566.3,279.3 559.1,280 C552,280.4 545,280 538.9,278.7 C532,277.3 525,274.8 518.6,271.6 C510.5,268.3 503,264.3 495.8,259.7 C489.3,255 483.5,249.3 478,243.2 C472.5,238 467.5,232.5 462.8,226.8"/>
<!-- plate -->
<path class="w" d="M516.6,126.9 L581.9,101.2 C583,115 584,130 584.6,144 C585.3,157 586,170 586,181.8 C585.6,192 584.5,205 583.7,217.8 L518.9,244.8 C516.5,223 515.6,200 515.8,180 C515.6,162 516,144 516.6,126.9 Z"/>
<!-- upper receptacle -->
<path class="w" d="M540.3,147.8 C540.3,145.5 540.6,144.5 541.4,143.8 L566.5,134.7 C568.5,134.3 569.6,135 569.9,136.4 L571.6,156.9 C571.5,158.8 570.5,159.8 568.8,160.4 L546,170.1 C544,170.3 542.9,169.3 542.5,167.2 Z" style="stroke-width:1.3"/>
<path class="b" d="M549.4,145.5 L550,158.3 M549.4,145.8 L544.8,152.9 L551.9,151.8" style="stroke-width:1.5"/>
<path class="m" d="M559.1,143 L561.7,142.6 L561.9,151.6 L559.4,152 Z" style="stroke-width:1.1"/>
<path class="m" d="M553.4,158.7 L556.2,157 L559.7,158 L559.1,160.3 L553.4,161.5 Z" style="stroke-width:1"/>
<ellipse class="m" cx="557.1" cy="171.7" rx="1.2" ry="1.8" transform="rotate(20 557.1 171.7)" style="stroke-width:.9"/>
<path class="t" d="M557.4,138.1 L564.2,137.5"/>
<!-- lower receptacle -->
<path class="w" d="M543.1,183.2 L567.6,175.8 C570,175.8 572,177 572.8,179.2 L573.3,205 L554,208.8 L549.4,210.5 C547.5,209 546.6,207 546,204.8 C544.3,201 543.2,197.5 542.5,193.4 C542.3,190 542.5,186.5 543.1,183.2 Z" style="stroke-width:1.3"/>
<!-- plug -->
<path class="w" d="M550,185.5 L564.2,182 L589.3,184.3 C591,186 592.5,188 593.9,190 C595.8,192.3 597.7,194.7 599.6,196.9 L605.3,198 C606.5,199.3 606.7,200.8 606.2,202.3 L600.5,209 C599.8,209.3 599,209.2 598.4,208.8 C594,207.6 589.5,207 584.8,207.1 C581.5,207.8 578.5,208.9 575.6,210 C571,210.2 566.5,210 561.9,209.4 L554,208.3 C552.7,207.3 551.8,206.2 551.1,204.8 C549.8,201.8 548.8,198.8 548.3,195.7 C548.5,192.3 549.2,188.8 550,185.5 Z" style="stroke-width:1.3"/>
<path class="m" d="M551.5,188.6 L588.5,188" style="stroke-width:.9"/>
<path class="b" d="M557.4,187.2 L567.6,184.8 M561,187.3 L566,186 M569,186.6 L574.5,185.3 M563,185 L566.5,184.3" style="stroke-width:1.3"/>
<path class="m" d="M603,197.6 C600.8,200.5 598.8,204 597.3,208.3"/>
<!-- leader -->
<path class="t" d="M561.7,209 L614.9,296.5"/>
</g>

<!-- 80_box.svg -->
<g id="disassembled">
<path class="d" d="M542,785.3 L542,422.4 A17.5,17.5 0 0 1 559.5,404.9 L750.2,404.9 A17.5,17.5 0 0 1 767.7,422.4 L767.7,785.3 A17.5,17.5 0 0 1 750.2,802.8 L559.5,802.8 A17.5,17.5 0 0 1 542,785.3" stroke-dashoffset="-2.7"/>
<path class="d" d="M346.3,564.7 L539,447.6"/>
<path class="d" d="M155.1,380.6 L248.8,412.3" style="stroke-dasharray:5.5 4.5"/>
<path class="w" d="M593.0,510.3 L593.3,531.0 L602.9,531.0 L602.6,510.3" style="fill:#fff"/>
<path class="w" d="M593.3,552.0 L593.6,577.2 L603.7,577.2 L603.4,552.0" style="fill:#fff"/>
<path class="b" d="M593.8,577.2 L603.4,577.2"/>
<path class="w" d="M592.7,529.7 C594.7,527.7 600.5,527.7 602.5,529.7 L609.6,533.7 L610.9,544.2 L612.1,546.8 C612.4,551.9 610.1,555.7 605.7,555.7 L589.5,555.7 C585.1,555.7 582.8,551.9 583.1,546.8 L584.3,544.2 L585.6,533.7 Z"/>
<path class="m" d="M584.3,544.2 C591.8,547.5 603.4,547.5 610.9,544.2"/>
<ellipse class="m" cx="597.6" cy="551.3" rx="9.6" ry="2.5"/>
<path class="m" d="M588.9,533.2 L588.5,545.2" style="stroke-width:.9"/>
<path class="m" d="M593.8,533.2 L593.6,545.2" style="stroke-width:.9"/>
<path class="m" d="M601.4,533.2 L601.6,545.2" style="stroke-width:.9"/>
<path class="m" d="M606.3,533.2 L606.7,545.2" style="stroke-width:.9"/>
<path class="m" d="M592.7,529.7 L593.8,533.7 L597.6,531.5 L601.4,533.7 L602.5,529.7" style="stroke-width:.9"/>
<path class="w" d="M591.8,587.2 C592.2,581.8 601.4,581.8 601.8,587.2 C605.0,588.1 606.0,589.4 606.0,591.0 C606.0,593.2 603.0,594.8 602.7,595.5 C600.5,598.3 593.1,598.3 590.9,595.5 C590.5,594.8 587.5,593.2 587.5,591.0 C587.5,589.4 588.5,588.1 591.8,587.2 Z"/>
<path class="m" d="M591.8,587.2 C594.0,589.4 599.6,589.4 601.8,587.2" style="stroke-width:.9"/>
<path class="m" d="M590.9,595.5 C593.1,593.2 600.5,593.2 602.7,595.5" style="stroke-width:.9"/>
<path class="w" d="M589.2,601.6 L589.2,619.5 L604.4,619.5 L604.4,601.6 Z"/>
<path class="b" d="M588.9,603.9 L604.7,602.9 M588.9,607.5 L604.7,606.5 M588.9,611.0 L604.7,610.0 M588.9,614.6 L604.7,613.6 M588.9,618.2 L604.7,617.2" style="stroke-width:1.5"/>
<path class="w" d="M588.8,618.3 L606.8,618.3 L613.0,623.8 L613.5,651.8 C613.5,656.8 605.8,658.8 597.8,658.8 C589.8,658.8 582.0,656.8 582.0,651.8 L582.5,623.8 Z"/>
<path class="m" d="M582.5,623.8 C589.8,620.1 605.8,620.1 613.0,623.8" style="stroke-width:.9"/>
<path class="m" d="M582.0,650.8 C586.0,654.5 609.5,654.5 613.5,650.8"/>
<ellipse class="m" cx="597.8" cy="652.6" rx="11.2" ry="2.6" style="stroke-width:.9"/>
<path class="m" d="M586.0,626.3 C586.2,623.3 590.2,623.3 590.5,626.3 L590.8,645.8 C590.2,648.3 586.2,648.3 585.8,645.8 Z" style="stroke-width:1"/>
<path class="m" d="M595.8,626.3 C596.0,623.3 600.0,623.3 600.2,626.3 L600.5,645.8 C600.0,648.3 596.0,648.3 595.5,645.8 Z" style="stroke-width:1"/>
<path class="m" d="M605.3,626.3 C605.5,623.3 609.5,623.3 609.8,626.3 L610.0,645.8 C609.5,648.3 605.5,648.3 605.0,645.8 Z" style="stroke-width:1"/>
<path class="w" d="M592.0,668.0 C592.0,661.5 606.0,661.5 606.0,668.0 L606.5,670.0 C611.0,670.5 613.0,673.0 612.5,675.5 C611.0,678.0 608.0,679.5 606.5,679.5 L605.5,684.5 L601.0,683.0 L597.0,685.5 L592.0,683.5 L591.5,679.5 C589.0,679.5 586.5,678.0 585.5,675.5 C585.0,673.0 587.0,670.5 591.5,670.0 Z"/>
<path class="m" d="M591.5,670.0 C596.0,672.0 602.0,672.0 606.5,670.0 M585.5,675.5 C591.0,671.5 607.0,671.5 612.5,675.5"/>
<path class="b" d="M591.5,679.5 C596.0,676.5 602.0,676.5 606.5,679.5 M594.5,677.6 L594.5,682.5 M599.0,677.0 L599.0,682.0 M603.0,677.5 L603.0,682.3 M593.0,682.0 L605.0,681.5" style="stroke-width:1.3"/>
<path class="w" d="M592.8,689.2 L592.8,701.5 L609.0,701.5 L609.0,689.2 Z"/>
<path class="b" d="M592.5,691.8 L609.3,690.8 M592.5,695.9 L609.3,694.9 M592.5,700.0 L609.3,699.0" style="stroke-width:1.5"/>
<path class="w" d="M595.7,748.0 L596.0,771.9 L606.3,771.9 L606.0,748.0" style="fill:#fff"/>
<path class="b" d="M596.2,771.9 L606.0,771.9"/>
<path class="w" d="M596.0,740.0 L596.0,748.8 L607.0,748.8 L607.0,740.0 Z"/>
<path class="b" d="M595.7,742.0 L607.3,741.0 M595.7,744.9 L607.3,743.9 M595.7,747.8 L607.3,746.8" style="stroke-width:1.2"/>
<path class="w" d="M590.1,721.0 L593.5,740.0 L609.0,740.0 L612.6,721.0 Z"/>
<path class="b" d="M590.1,723.4 L612.5,722.4 M590.8,727.2 L611.8,726.2 M591.5,731.0 L611.1,730.0 M592.2,734.8 L610.4,733.8 M592.9,738.6 L609.7,737.6" style="stroke-width:1.5"/>
<path class="w" d="M588.5,701.8 C597.5,700.3 603.5,700.3 612.9,702.8 L614.4,704.8 L614.4,721.0 C604.5,719.5 598.5,720.0 591.0,722.5 L586.5,722.0 L586.5,703.3 Z"/>
<path class="m" d="M591.0,702.8 L591.0,722.5 M609.9,703.8 L609.9,720.5"/>
<path class="m" d="M591.0,704.8 C598.5,703.6 603.5,703.6 609.9,705.3" style="stroke-width:.9"/>
<path class="b" d="M586.5,707.8 L588.5,707.8 M586.5,712.3 L588.5,712.3 M612.2,710.8 L614.1,710.8" style="stroke-width:1.1"/>
<path class="k" d="M598.2,707.5 L604.2,707.2 L604.2,711.8 L607.5,711.5 L601.5,719.5 L595.2,712.1 L598.2,712.0 Z"/>
<path class="w" d="M704.1,514.7 L704.4,540.0 L712.8,540.0 L712.5,514.7" style="fill:#fff"/>
<path class="w" d="M703.5,562.0 L703.8,586.0 L712.3,586.0 L712.0,562.0" style="fill:#fff"/>
<path class="b" d="M704.0,586.0 L712.0,586.0"/>
<path class="w" d="M703.5,538.1 C705.5,536.1 711.1,536.1 713.1,538.1 L719.9,542.3 L721.2,553.3 L722.4,555.8 C722.7,561.1 720.4,565.1 716.2,565.1 L700.4,565.1 C696.2,565.1 693.9,561.1 694.2,555.8 L695.4,553.3 L696.7,542.3 Z"/>
<path class="m" d="M695.4,553.3 C702.7,556.5 713.9,556.5 721.2,553.3"/>
<ellipse class="m" cx="708.3" cy="560.5" rx="9.3" ry="2.6"/>
<path class="m" d="M699.8,541.7 L699.4,554.3" style="stroke-width:.9"/>
<path class="m" d="M704.6,541.7 L704.5,554.3" style="stroke-width:.9"/>
<path class="m" d="M712.0,541.7 L712.1,554.3" style="stroke-width:.9"/>
<path class="m" d="M716.8,541.7 L717.2,554.3" style="stroke-width:.9"/>
<path class="m" d="M703.5,538.1 L704.6,542.3 L708.3,540.0 L712.0,542.3 L713.1,538.1" style="stroke-width:.9"/>
<path class="w" d="M702.1,595.6 C702.5,589.9 712.0,589.9 712.3,595.6 C715.7,596.5 716.7,598.0 716.7,599.6 C716.7,602.0 713.7,603.7 713.3,604.5 C711.0,607.4 703.4,607.4 701.1,604.5 C700.7,603.7 697.7,602.0 697.7,599.6 C697.7,598.0 698.7,596.5 702.1,595.6 Z"/>
<path class="m" d="M702.1,595.6 C704.4,598.0 710.1,598.0 712.3,595.6" style="stroke-width:.9"/>
<path class="m" d="M701.1,604.5 C703.4,602.0 711.0,602.0 713.3,604.5" style="stroke-width:.9"/>
<path class="w" d="M699.0,612.6 L699.0,625.5 L716.0,625.5 L716.0,612.6 Z"/>
<path class="b" d="M698.7,615.2 L716.3,614.2 M698.7,619.5 L716.3,618.5 M698.7,623.9 L716.3,622.9" style="stroke-width:1.5"/>
<path class="w" d="M701.6,671.0 L701.9,697.1 L713.2,697.1 L712.9,671.0" style="fill:#fff"/>
<path class="b" d="M702.1,697.1 L712.9,697.1"/>
<path class="w" d="M701.0,664.0 L701.0,671.8 L714.0,671.8 L714.0,664.0 Z"/>
<path class="b" d="M700.7,665.8 L714.3,664.8 M700.7,668.4 L714.3,667.4 M700.7,671.0 L714.3,670.0" style="stroke-width:1.2"/>
<path class="w" d="M696.0,645.0 L699.5,664.5 L715.5,664.5 L718.9,645.0 Z"/>
<path class="b" d="M696.1,647.5 L718.9,646.5 M696.8,651.4 L718.2,650.4 M697.5,655.2 L717.5,654.2 M698.2,659.1 L716.8,658.1 M698.9,663.0 L716.1,662.0" style="stroke-width:1.5"/>
<path class="w" d="M694.3,625.0 C704.0,623.5 710.0,623.5 720.2,626.0 L721.7,628.0 L721.7,645.0 C711.0,643.5 705.0,644.0 696.8,646.5 L692.3,646.0 L692.3,626.5 Z"/>
<path class="m" d="M696.8,626.0 L696.8,646.5 M717.2,627.0 L717.2,644.5"/>
<path class="m" d="M696.8,628.0 C705.0,626.8 710.0,626.8 717.2,628.5" style="stroke-width:.9"/>
<path class="b" d="M692.3,631.0 L694.3,631.0 M692.3,635.5 L694.3,635.5 M719.5,634.0 L721.4,634.0" style="stroke-width:1.1"/>
<path class="k" d="M704.8,630.7 L710.8,630.4 L710.8,635.0 L714.0,634.7 L708.1,642.7 L701.8,635.3 L704.8,635.2 Z"/>
<path class="t" d="M611.7,672.1 L645.9,635.2"/>
<path class="t" d="M613.5,722.5 L672.8,747.6 L688.5,700 L708.4,643"/>
</g>
<!-- 90_leaders.svg -->
<g id="leaders">
<path class="t" d="M220,58.3 L164,93.3"/>
<path class="t" d="M248.3,110 L131.7,183.3"/>
<path class="t" d="M216.7,235 L156.7,271.7"/>
<path class="t" d="M528.4,67 L589.3,39.3"/>
<path class="t" d="M158.3,523 L108.3,553"/>
<path class="t" d="M259.7,471.4 L288,516.5"/>
<path class="t" d="M230,638.2 L290,601.7"/>
<path class="t" d="M75,760.3 L106.7,812"/>
<path class="t" d="M132.7,877.7 L173.3,883"/>
</g>
<g id="disassembled-small">
<!-- tube end -->
<path class="m" d="M70.1,396.6 C78,392 85.5,388 93,384.4 C98.5,382 104,380 109.4,378.1 C112.5,377.2 115.3,378.3 115.8,380.6 C116.2,382.5 115.6,384.3 114.5,385.7 C109,388.5 103.5,391.5 98,394.6 C93.3,397.2 88.7,399.7 84.1,402.2"/>
<!-- nut -->
<path class="w" d="M119,369.5 L122.4,361.9 L127,358.3 L133.8,355.7 L139,356.3 L143.3,359 L147.5,362 L149.9,366.6 L151.8,373.3 L150.8,378 L148,381.8 L143.5,385.5 L138.5,387.5 L133.5,390.2 L128.1,390.4 L124,388.5 L121.4,384.7 L119.5,378 Z" style="stroke-width:1.6"/>
<path d="M125.7,360.4 L138.5,356.2 M130.4,364.7 L145.2,360.4 M133.8,370.4 L149.0,365.7 M135.2,376.6 L150.9,371.8 M135.7,382.8 L148.0,378.0 M133.0,388.0 L141.5,385.2" fill="none" stroke="#111" stroke-width="4.6" stroke-linecap="round"/>
<path d="M125.7,360.4 L138.5,356.2 M130.4,364.7 L145.2,360.4 M133.8,370.4 L149.0,365.7 M135.2,376.6 L150.9,371.8 M135.7,382.8 L148.0,378.0 M133.0,388.0 L141.5,385.2" fill="none" stroke="#fff" stroke-width="2.3" stroke-linecap="round"/>
<path class="l" d="M122.4,361.9 C126,361 130,364 132.5,369 C135,374.5 135.8,381 134.5,386 C133.5,389 131,390.5 128.1,390.4" style="stroke-width:1.3"/>
<ellipse cx="127.3" cy="377.3" rx="3.1" ry="6.2" transform="rotate(-14 127.3 377.3)" fill="#fff" stroke="#111" stroke-width="2.6"/>
<!-- ferrule -->
<path class="w" d="M153.7,358.1 C153.9,356.5 155,355.3 156.6,354.3 L159.4,352.4 L159.4,349.5 C161.5,348.3 164.5,348 167,348.6 C169.5,349.3 171.5,350.6 172.7,352.4 C173.8,354 174.3,356 174.2,358.1 C174,360.3 173.2,362.2 171.8,363.8 C170.5,365 168.8,365.8 167,366.1 L161.3,366.6 C159.8,366.5 158.5,366.3 157.5,365.7 C156,364.8 155.2,363.5 154.7,361.9 C154.2,360.7 153.8,359.5 153.7,358.1 Z" style="stroke-width:1.6"/>
<path class="l" d="M163.2,348.6 C165.8,351.5 167.3,355.5 167,359.5 C166.8,362 166.3,364.3 165.3,366.3 M160.5,352 C162.8,354.5 164,357.8 163.7,361.3 C163.5,363.3 163,365 162.2,366.5" style="stroke-width:1.3"/>
<ellipse cx="158.3" cy="360.2" rx="2.3" ry="3.3" transform="rotate(-18 158.3 360.2)" fill="#fff" stroke="#111" stroke-width="2"/>
</g>

<g id="labels">
<text x="40.7" y="110.9" textLength="139.1" lengthAdjust="spacingAndGlyphs">Rain Roof slides into</text>
<text x="40.7" y="129.2" textLength="149.1" lengthAdjust="spacingAndGlyphs">wall mounting bracket</text>
<text x="41.0" y="147.6" textLength="142.2" lengthAdjust="spacingAndGlyphs">(no tools necessary).</text>
<text x="40.7" y="204.2" textLength="145.1" lengthAdjust="spacingAndGlyphs">On/Off Switch (under</text>
<text x="40.7" y="222.6" textLength="171.9" lengthAdjust="spacingAndGlyphs">roof, not visible this view)</text>
<text x="40.7" y="293.2" textLength="204.6" lengthAdjust="spacingAndGlyphs">Vertical Wall Mounting Bracket</text>
<text x="41.0" y="311.6" textLength="128.8" lengthAdjust="spacingAndGlyphs">(requires 2 screws)</text>
<text x="602.0" y="46.9" textLength="144.5" lengthAdjust="spacingAndGlyphs">Always use Rain Roof</text>
<text x="602.0" y="65.4" textLength="133.8" lengthAdjust="spacingAndGlyphs">for outdoor use or if</text>
<text x="602.0" y="83.9" textLength="118.5" lengthAdjust="spacingAndGlyphs">metering pump is</text>
<text x="602.0" y="102.2" textLength="153.2" lengthAdjust="spacingAndGlyphs">subject to washdowns.</text>
<text x="508.2" y="323.4" textLength="157.8" lengthAdjust="spacingAndGlyphs">Grounded Power Outlet;</text>
<text x="508.2" y="341.8" textLength="175.8" lengthAdjust="spacingAndGlyphs">protected by Ground-Fault</text>
<text x="508.2" y="360.1" textLength="165.1" lengthAdjust="spacingAndGlyphs">Circuit-Interrupter (GFCI)</text>
<text x="40.7" y="421.1" textLength="129.9" lengthAdjust="spacingAndGlyphs">Disassembled View</text>
<text x="59.3" y="572.9" textLength="83.7" lengthAdjust="spacingAndGlyphs">Suction Line</text>
<text x="239.3" y="531.2" textLength="99.0" lengthAdjust="spacingAndGlyphs">Discharge Line</text>
<text x="293.7" y="581.2" textLength="141.8" lengthAdjust="spacingAndGlyphs">Injection Check Valve</text>
<text x="293.7" y="599.6" textLength="122.5" lengthAdjust="spacingAndGlyphs">or Injection Fitting</text>
<text x="591.0" y="434.8" textLength="129.7" lengthAdjust="spacingAndGlyphs">Disassembled View</text>
<text x="571.0" y="461.3" textLength="56.9" lengthAdjust="spacingAndGlyphs">Injection</text>
<text x="559.3" y="479.7" textLength="79.4" lengthAdjust="spacingAndGlyphs">Check Valve</text>
<text x="560.9" y="498.0" textLength="76.7" lengthAdjust="spacingAndGlyphs">26-100 psi</text>
<text x="681.6" y="461.3" textLength="57.0" lengthAdjust="spacingAndGlyphs">Injection</text>
<text x="689.9" y="479.7" textLength="41.3" lengthAdjust="spacingAndGlyphs">Fitting</text>
<text x="681.6" y="498.0" textLength="57.3" lengthAdjust="spacingAndGlyphs">0-25 psi</text>
<text x="625.0" y="629.2" textLength="53.3" lengthAdjust="spacingAndGlyphs">Duckbill</text>
<text x="642.7" y="764.5" textLength="92.0" lengthAdjust="spacingAndGlyphs">Flow direction</text>
<text x="653.7" y="783.6" textLength="70.6" lengthAdjust="spacingAndGlyphs">of solution</text>
<text x="68.3" y="830.2" textLength="94.1" lengthAdjust="spacingAndGlyphs">Shut-Off Valve</text>
<text x="39.5" y="883.0" textLength="89.9" lengthAdjust="spacingAndGlyphs">Solution Tank</text>
</g>
</svg>
</body></html>
